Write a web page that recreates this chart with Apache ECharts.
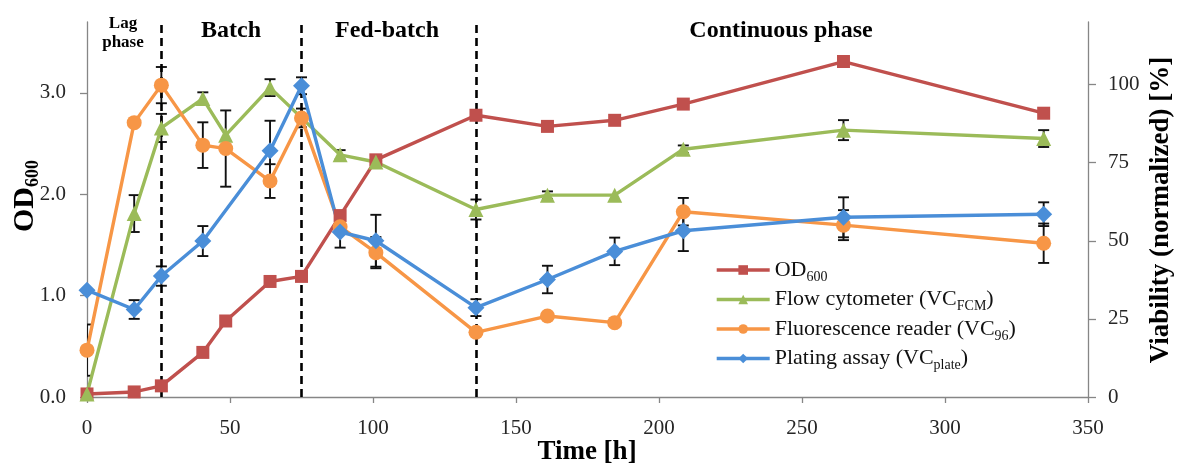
<!DOCTYPE html>
<html>
<head>
<meta charset="utf-8">
<script src="https://cdn.jsdelivr.net/npm/echarts@6/dist/echarts.min.js"></script>
<style>
  html, body { margin: 0; padding: 0; background: #fff; }
  #chart { width: 1180px; height: 468px; }
</style>
</head>
<body>
<div id="chart"></div>
<script>
// Sampling times [h]
const hours = [0, 16.5, 26, 40.5, 48.5, 64, 75, 88.5, 101, 136, 161, 184.5, 208.5, 264.5, 334.5];

// Optical density (left axis)
const od600 = [0.03, 0.05, 0.11, 0.44, 0.75, 1.14, 1.19, 1.79, 2.34, 2.78, 2.67, 2.73, 2.89, 3.31, 2.80];

// Viability, normalized [%] (right axis); null = not measured
const vcFcm = [1, 58.7, 86.1, 95.5, 83.8, 99.0, null, 77.5, 75.2, 60.0, 64.6, 64.6, 79.3, 85.4, 82.7];
const vcFcmErr = [null, 5.9, 4.5, 2.0, null, 2.7, null, 1.5, 1.0, 3.2, 1.2, null, 1.2, 3.2, 2.7];

const vc96 = [15.0, 87.8, 99.8, 80.6, 79.5, 69.1, 89.3, 54.5, 46.2, 20.7, 25.9, 23.8, 59.3, 55.0, 49.2];
const vc96Err = [8.2, null, 5.8, 7.3, 12.2, 5.4, 3.0, null, 5.0, null, null, null, 4.4, 4.8, 6.3];

const vcPlate = [34.2, 28.0, 38.7, 49.9, null, 78.8, 99.6, 52.8, 50.0, 28.6, 37.6, 46.6, 53.2, 57.5, 58.5];
const vcPlateErr = [null, 3.0, 3.1, 4.8, null, 9.6, 2.7, 5.0, 8.3, 2.7, 4.4, 4.4, 6.5, 6.4, 3.8];

// Process phase boundaries [h] and phase names
const phaseBounds = [26, 75, 136];
const phaseNames = ['Lag\nphase', 'Batch', 'Fed-batch', 'Continuous phase'];

// Axis tick values
const odTicks = [0, 1, 2, 3];
const vcTicks = [0, 25, 50, 75, 100];

const SERIF = '"Liberation Serif", "DejaVu Serif", serif';
const COLORS = { od: '#C0504D', fcm: '#9BBB59', f96: '#F79646', plate: '#4A8ED8' };

function pairs(xs, ys) {
  return xs.map((x, i) => [x, ys[i]]);
}
function errTriples(xs, ys, es) {
  const out = [];
  xs.forEach((x, i) => {
    if (ys[i] != null && es[i] != null) out.push([x, ys[i], es[i]]);
  });
  return out;
}

// Symmetric error bar with caps, placed through the series' own axes
function renderErrorBar(params, api) {
  const x = api.value(0), y = api.value(1), e = api.value(2);
  const hi = api.coord([x, y + e]);
  const lo = api.coord([x, y - e]);
  const hw = 5.5;
  const style = { stroke: '#111', lineWidth: 1.9 };
  return {
    type: 'group',
    children: [
      { type: 'line', shape: { x1: hi[0], y1: hi[1], x2: lo[0], y2: lo[1] }, style },
      { type: 'line', shape: { x1: hi[0] - hw, y1: hi[1], x2: hi[0] + hw, y2: hi[1] }, style },
      { type: 'line', shape: { x1: lo[0] - hw, y1: lo[1], x2: lo[0] + hw, y2: lo[1] }, style }
    ]
  };
}

function errSeries(data) {
  return {
    type: 'custom',
    xAxisIndex: 0,
    yAxisIndex: 1,
    renderItem: renderErrorBar,
    encode: { x: 0, y: 1 },
    data: data,
    clip: true,
    silent: true,
    z: 1
  };
}

const legendNames = {
  'OD600': '{m|OD}{s|600}',
  'Flow cytometer (VCFCM)': '{m|Flow cytometer (VC}{s|FCM}{m|)}',
  'Fluorescence reader (VC96)': '{m|Fluorescence reader (VC}{s|96}{m|)}',
  'Plating assay (VCplate)': '{m|Plating assay (VC}{s|plate}{m|)}'
};

function lineSeries(name, data, yIdx, color, symbol, size) {
  return {
    name: name,
    type: 'line',
    xAxisIndex: 0,
    yAxisIndex: yIdx,
    data: data,
    connectNulls: true,
    symbol: symbol,
    symbolSize: size,
    showAllSymbol: true,
    lineStyle: { color: color, width: 3.4 },
    itemStyle: { color: color },
    z: 3
  };
}

const axisLineStyle = { show: true, lineStyle: { color: '#868686', width: 1.3 } };
const axisTickStyle = (len, vals) => {
  const t = { show: true, inside: false, length: len, lineStyle: { color: '#868686', width: 1.3 } };
  if (vals) t.customValues = vals;
  return t;
};

const chart = echarts.init(document.getElementById('chart'), null, { renderer: 'canvas' });

const odSeries = lineSeries('OD600', pairs(hours, od600), 0, COLORS.od, 'rect', 13);
odSeries.markLine = {
  silent: true,
  symbol: 'none',
  label: { show: false },
  lineStyle: { color: '#000', width: 2.6, type: [8, 5] },
  data: phaseBounds.map(h => ({ xAxis: h })),
  z: 2
};

const option = {
  animation: false,
  backgroundColor: '#fff',
  grid: { left: 87, right: 92, top: 22, bottom: 71, containLabel: false },
  xAxis: {
    type: 'value',
    min: 0, max: 350, interval: 50,
    axisLine: axisLineStyle,
    axisTick: axisTickStyle(6),
    splitLine: { show: false },
    axisLabel: { fontFamily: SERIF, fontSize: 21, color: '#262626', margin: 21 }
  },
  yAxis: [
    {
      type: 'value',
      min: 0, max: 3.7, interval: 1,
      position: 'left',
      axisLine: axisLineStyle,
      axisTick: axisTickStyle(7, odTicks),
      splitLine: { show: false },
      axisLabel: {
        customValues: odTicks,
        fontFamily: SERIF, fontSize: 21, color: '#262626', margin: 21,
        formatter: v => v.toFixed(1)
      }
    },
    {
      type: 'value',
      min: 0, max: 120, interval: 25,
      position: 'right',
      axisLine: axisLineStyle,
      axisTick: axisTickStyle(8, vcTicks),
      splitLine: { show: false },
      axisLabel: {
        customValues: vcTicks,
        fontFamily: SERIF, fontSize: 21, color: '#262626', margin: 20
      }
    }
  ],
  legend: {
    orient: 'vertical',
    left: 715,
    top: 259,
    padding: 0,
    itemWidth: 53,
    itemHeight: 12,
    itemGap: 4.5,
    lineStyle: { width: 3.4 },
    data: Object.keys(legendNames),
    formatter: name => legendNames[name],
    textStyle: {
      fontFamily: SERIF, fontSize: 22, color: '#111',
      rich: {
        m: { fontFamily: SERIF, fontSize: 22, color: '#111', lineHeight: 28 },
        s: { fontFamily: SERIF, fontSize: 14, color: '#111', lineHeight: 15, verticalAlign: 'bottom' }
      }
    }
  },
  graphic: [
    {
      type: 'text', x: 25, y: 196, rotation: Math.PI / 2,
      style: {
        text: '{b|OD}{s|600}',
        align: 'center', verticalAlign: 'middle',
        fill: '#000',
        rich: {
          b: { fontFamily: SERIF, fontSize: 30, fontWeight: 'bold', fill: '#000', lineHeight: 34 },
          s: { fontFamily: SERIF, fontSize: 18, fontWeight: 'bold', fill: '#000', lineHeight: 18, verticalAlign: 'bottom' }
        }
      }
    },
    {
      type: 'text', x: 587, y: 452,
      style: { text: 'Time [h]', fontFamily: SERIF, fontSize: 27, fontWeight: 'bold', fill: '#000', align: 'center', verticalAlign: 'middle' }
    },
    {
      type: 'text', x: 1161, y: 210, rotation: Math.PI / 2,
      style: { text: 'Viability (normalized) [%]', fontFamily: SERIF, fontSize: 27, fontWeight: 'bold', fill: '#000', align: 'center', verticalAlign: 'middle' }
    },
    {
      type: 'text', x: 123, y: 33,
      style: { text: phaseNames[0], fontFamily: SERIF, fontSize: 17, fontWeight: 'bold', lineHeight: 19, fill: '#000', align: 'center', verticalAlign: 'middle' }
    },
    {
      type: 'text', x: 231, y: 31,
      style: { text: phaseNames[1], fontFamily: SERIF, fontSize: 24, fontWeight: 'bold', fill: '#000', align: 'center', verticalAlign: 'middle' }
    },
    {
      type: 'text', x: 387, y: 31,
      style: { text: phaseNames[2], fontFamily: SERIF, fontSize: 24, fontWeight: 'bold', fill: '#000', align: 'center', verticalAlign: 'middle' }
    },
    {
      type: 'text', x: 781, y: 31,
      style: { text: phaseNames[3], fontFamily: SERIF, fontSize: 24, fontWeight: 'bold', fill: '#000', align: 'center', verticalAlign: 'middle' }
    }
  ],
  series: [
    errSeries(errTriples(hours, vcFcm, vcFcmErr)),
    errSeries(errTriples(hours, vc96, vc96Err)),
    errSeries(errTriples(hours, vcPlate, vcPlateErr)),
    odSeries,
    lineSeries('Flow cytometer (VCFCM)', pairs(hours, vcFcm), 1, COLORS.fcm, 'triangle', 15),
    lineSeries('Fluorescence reader (VC96)', pairs(hours, vc96), 1, COLORS.f96, 'circle', 15),
    lineSeries('Plating assay (VCplate)', pairs(hours, vcPlate), 1, COLORS.plate, 'diamond', 17)
  ]
};

chart.setOption(option);
</script>
</body>
</html>
